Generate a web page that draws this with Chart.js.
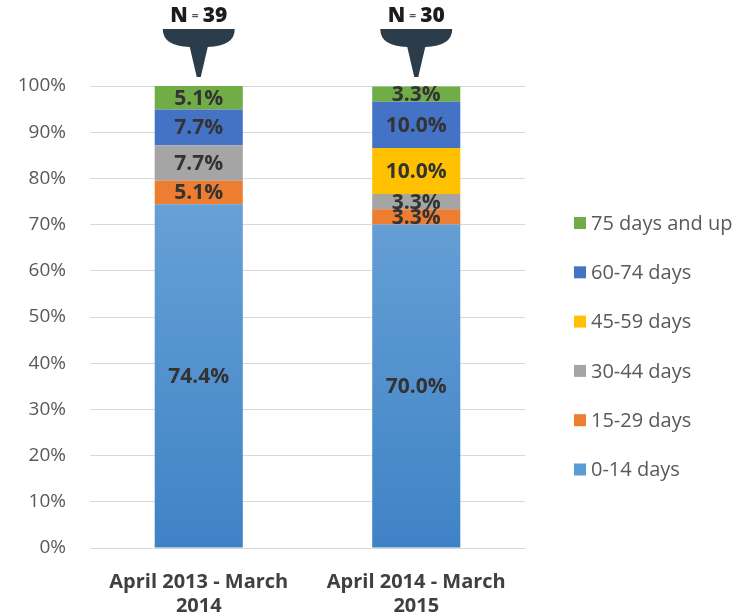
<!DOCTYPE html>
<html>
<head>
<meta charset="utf-8">
<script src="https://cdn.jsdelivr.net/npm/chart.js@4.4.0/dist/chart.umd.min.js"></script>
<style>
  html, body { margin: 0; padding: 0; background: #fff; }
  #wrap { width: 747px; height: 616px; position: relative; }
</style>
</head>
<body>
<div id="wrap"><canvas id="chart" width="747" height="616"></canvas></div>
<script>
// stacked share of cases by days open
const periods   = [['April 2013 - March', '2014'], ['April 2014 - March', '2015']];
const sampleN   = [39, 30];
const bandNames = ['0-14 days', '15-29 days', '30-44 days', '45-59 days', '60-74 days', '75 days and up'];
const bandColors = ['#5b9bd5', '#ed7d31', '#a5a5a5', '#ffc000', '#4472c4', '#70ad47'];

const days0to14  = [74.4, 70.0];
const days15to29 = [5.1, 3.3];
const days30to44 = [7.7, 3.3];
const days45to59 = [0, 10.0];
const days60to74 = [7.7, 10.0];
const days75up   = [5.1, 3.3];

const yTicks = [0, 10, 20, 30, 40, 50, 60, 70, 80, 90, 100];

const FONT = "'Open Sans', 'Noto Sans', sans-serif";
const series = [days0to14, days15to29, days30to44, days45to59, days60to74, days75up];

// light-to-dark fill for the big blue band
function blueFill(ctx) {
  const area = ctx.chart.chartArea;
  if (!area) return bandColors[0];
  const g = ctx.chart.ctx.createLinearGradient(0, area.top, 0, area.bottom);
  g.addColorStop(0, '#74aadb');
  g.addColorStop(1, '#3f83c6');
  return g;
}

// value labels inside each segment
const segmentLabels = {
  id: 'segmentLabels',
  afterDatasetsDraw(chart) {
    const { ctx } = chart;
    ctx.save();
    ctx.font = `bold 21px ${FONT}`;
    ctx.fillStyle = '#333333';
    ctx.textAlign = 'center';
    ctx.textBaseline = 'middle';
    chart.data.datasets.forEach((ds, di) => {
      const meta = chart.getDatasetMeta(di);
      meta.data.forEach((bar, i) => {
        const v = ds.data[i];
        if (!v) return;
        const mid = (bar.y + bar.base) / 2;
        ctx.fillText(v.toFixed(1) + '%', bar.x, mid + 1);
      });
    });
    ctx.restore();
  }
};

// "N = xx" callout shapes over the bars
const nCallouts = {
  id: 'nCallouts',
  afterDraw(chart) {
    const { ctx } = chart;
    const meta = chart.getDatasetMeta(0);
    ctx.save();
    meta.data.forEach((bar, i) => {
      const cx = bar.x;
      ctx.fillStyle = '#2b3c4a';
      ctx.beginPath();
      ctx.moveTo(cx - 36, 29);
      ctx.lineTo(cx + 36, 29);
      ctx.quadraticCurveTo(cx + 36, 46, cx + 9, 47);
      ctx.lineTo(cx + 2, 77);
      ctx.lineTo(cx - 2, 77);
      ctx.lineTo(cx - 9, 47);
      ctx.quadraticCurveTo(cx - 36, 46, cx - 36, 29);
      ctx.closePath();
      ctx.fill();

      ctx.fillStyle = '#1c1c1c';
      ctx.textBaseline = 'middle';
      ctx.font = `900 21px ${FONT}`;
      const nW = ctx.measureText('N').width;
      const numTxt = String(sampleN[i]);
      const numW = ctx.measureText(numTxt).width;
      ctx.font = `bold 12px ${FONT}`;
      const eqW = ctx.measureText('=').width;
      const gap = 4;
      const total = nW + gap + eqW + gap + numW;
      let x = cx - total / 2;
      ctx.textAlign = 'left';
      ctx.font = `900 21px ${FONT}`;
      ctx.fillText('N', x, 16);
      x += nW + gap;
      ctx.font = `bold 12px ${FONT}`;
      ctx.fillStyle = '#555';
      ctx.fillText('=', x, 17);
      x += eqW + gap;
      ctx.fillStyle = '#1c1c1c';
      ctx.font = `900 21px ${FONT}`;
      ctx.fillText(numTxt, x, 16);
    });
    ctx.restore();
  }
};

// legend on the right, top item first
const sideLegend = {
  id: 'sideLegend',
  afterDraw(chart) {
    const { ctx } = chart;
    ctx.save();
    ctx.font = `20px ${FONT}`;
    ctx.textBaseline = 'middle';
    ctx.textAlign = 'left';
    const rows = bandNames.map((n, i) => ({ n, c: bandColors[i] })).reverse();
    rows.forEach((r, k) => {
      const y = 223 + k * 49.3;
      ctx.fillStyle = r.c;
      ctx.fillRect(574, y - 6, 12, 12);
      ctx.fillStyle = '#595959';
      ctx.fillText(r.n, 591, y + 1);
    });
    ctx.restore();
  }
};

new Chart(document.getElementById('chart'), {
  type: 'bar',
  data: {
    labels: periods,
    datasets: series.map((d, i) => ({
      label: bandNames[i],
      data: d,
      backgroundColor: i === 0 ? blueFill : bandColors[i],
      borderWidth: 0,
      barPercentage: 0.81,
      categoryPercentage: 0.5
    }))
  },
  options: {
    responsive: false,
    animation: false,
    layout: { padding: { top: 86, right: 222, left: 0, bottom: 0 } },
    plugins: {
      legend: { display: false },
      tooltip: { enabled: false }
    },
    scales: {
      x: {
        stacked: true,
        grid: { display: false },
        border: { color: '#d9d9d9', width: 1 },
        ticks: {
          color: '#404040',
          font: { family: FONT, size: 20, weight: 'bold', lineHeight: 1.2 },
          padding: 14,
          maxRotation: 0,
          autoSkip: false
        },
        afterFit: s => { s.height = 68; }
      },
      y: {
        stacked: true,
        min: 0,
        max: 100,
        afterBuildTicks: s => { s.ticks = yTicks.map(v => ({ value: v })); },
        grid: { color: '#d9d9d9', drawTicks: false },
        border: { display: false },
        ticks: {
          color: '#595959',
          font: { family: FONT, size: 19 },
          padding: 24,
          callback: v => v + '%'
        },
        afterFit: s => { s.width = 90; }
      }
    }
  },
  plugins: [segmentLabels, nCallouts, sideLegend]
});
</script>
</body>
</html>
